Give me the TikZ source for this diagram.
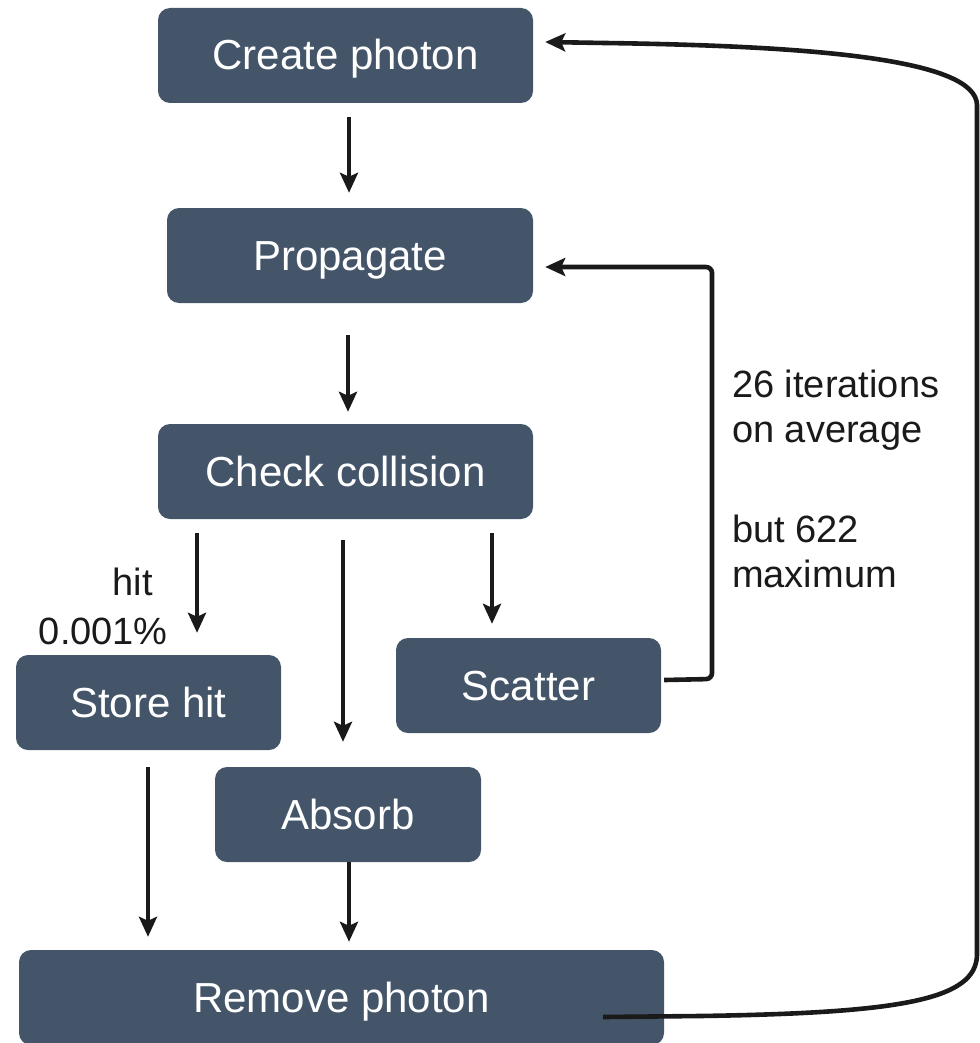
\documentclass[tikz,border=0pt]{standalone}
\usepackage{fontspec}
\setmainfont{Liberation Sans}
\usetikzlibrary{arrows.meta}
\definecolor{boxblue}{RGB}{68,85,106}
\definecolor{linegray}{RGB}{26,26,26}
\begin{document}
\begin{tikzpicture}[x=1pt,y=-1pt,
  stepbox/.style={fill=boxblue,rounded corners=12pt,minimum height=95pt,inner sep=0pt,
    text height=38pt,text depth=9pt,
    text=white,font=\fontsize{42}{48}\selectfont},
  conn/.style={draw=linegray,line width=4.6pt,-{Stealth[length=20pt,width=18pt,inset=4pt]}},
  lbl/.style={font=\fontsize{38}{45}\selectfont,text=linegray,inner sep=0pt}]
\useasboundingbox (0,0) rectangle (979,1043);
\node[stepbox,minimum width=375pt] (cp) at (345.5,55.5) {Create photon};
\node[stepbox,minimum width=366pt] (pr) at (350,255.5) {Propagate};
\node[stepbox,minimum width=375pt] (ck) at (345.5,471.5) {Check collision};
\node[stepbox,minimum width=265pt] (st) at (148.5,702.5) {Store hit};
\node[stepbox,minimum width=265pt] (sc) at (528.5,685.5) {Scatter};
\node[stepbox,minimum width=266pt] (ab) at (348,814.5) {Absorb};
\node[stepbox,minimum width=645pt] (rm) at (341.5,997.5) {Remove photon};

\node[lbl,anchor=base west] (l1) at (732,397) {26 iterations};
\node[lbl,anchor=base west] (l2) at (732,442) {on average};
\node[lbl,anchor=base west] (l3) at (732,542) {but 622};
\node[lbl,anchor=base west] (l4) at (732,587) {maximum};
\node[lbl,anchor=base east] (h1) at (153,595) {hit};
\node[lbl,anchor=base east] (h2) at (168,644) {0.001\%};

\draw[conn] ([xshift=3.5pt,yshift=-14pt]cp.south) -- ([xshift=-1pt,yshift=15pt]pr.north);
\draw[conn] ([xshift=-2pt,yshift=-32pt]pr.south) -- ([xshift=2.5pt,yshift=12pt]ck.north);
\draw[conn] ([xshift=-148.5pt,yshift=-14pt]ck.south) -- ([xshift=48.5pt,yshift=22pt]st.north);
\draw[conn] ([xshift=-2.5pt,yshift=-21pt]ck.south) -- ([xshift=-5pt,yshift=25pt]ab.north);
\draw[conn] ([xshift=146.5pt,yshift=-14pt]ck.south) -- ([xshift=-36.5pt,yshift=14pt]sc.north);
\draw[conn] ([xshift=-0.5pt,yshift=-17pt]st.south) -- ([xshift=-193.5pt,yshift=13pt]rm.north);
\draw[conn] ([xshift=1pt]ab.south) -- ([xshift=7.5pt,yshift=8pt]rm.north);

\coordinate (s1) at (712,679);
\coordinate (s2) at (712,267);
\draw[conn,rounded corners=6pt] ([xshift=3pt,yshift=5.5pt]sc.east) -- (s1) -- (s2) -- ([xshift=12pt,yshift=-11.5pt]pr.east);

\coordinate (r1) at (700,1016);
\coordinate (r2) at (977,955);
\coordinate (r3) at (977,105);
\coordinate (r4) at (605,43);
\draw[conn] ([xshift=-61pt,yshift=-19.5pt]rm.east) -- (r1)
  .. controls (900,1013) and (976,1000) .. (r2) -- (r3)
  .. controls (976,60) and (820,46) .. (r4) -- ([xshift=12pt,yshift=13.5pt]cp.east);
\end{tikzpicture}
\end{document}
